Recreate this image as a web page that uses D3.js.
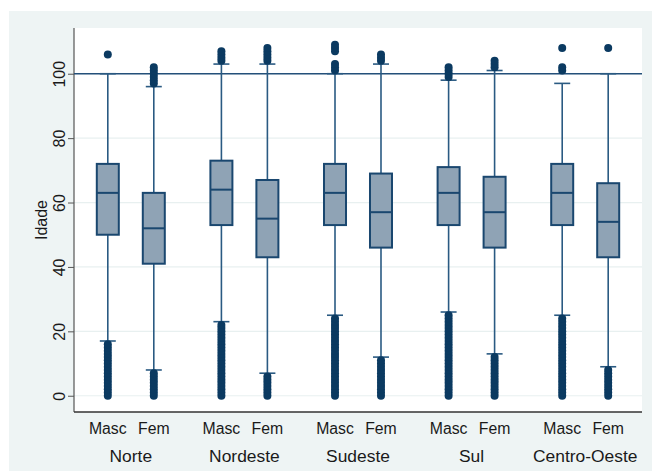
<!DOCTYPE html>
<html>
<head>
<meta charset="utf-8">
<script src="https://cdn.jsdelivr.net/npm/d3@7"></script>
<style>
  html, body { margin: 0; padding: 0; background: #ffffff; }
  svg { display: block; font-family: "Liberation Sans", Arial, sans-serif; }
</style>
</head>
<body>
<svg id="chart" width="652" height="473"></svg>
<script>
// Age distribution (Idade) by region and sex
const regions = ["Norte", "Nordeste", "Sudeste", "Sul", "Centro-Oeste"];
const sexes = ["Masc", "Fem"];

// One entry per region x sex, in order: Norte Masc, Norte Fem, Nordeste Masc, ...
const q1 =        [50, 41, 53, 43, 53, 46, 53, 46, 53, 43];
const medians =   [63, 52, 64, 55, 63, 57, 63, 57, 63, 54];
const q3 =        [72, 63, 73, 67, 72, 69, 71, 68, 72, 66];
const whiskerLo = [17,  8, 23,  7, 25, 12, 26, 13, 25,  9];
const whiskerHi = [100, 96, 103, 103, 100, 103, 98, 101, 97, 100];

const outliersLow = [
  [0,1,2,3,4,5,6,7,8,9,10,11,12,13,14,15,16],
  [0,1,2,3,4,5,6,7],
  [0,1,2,3,4,5,6,7,8,9,10,11,12,13,14,15,16,17,18,19,20,21,22],
  [0,1,2,3,4,5,6],
  [0,1,2,3,4,5,6,7,8,9,10,11,12,13,14,15,16,17,18,19,20,21,22,23,24],
  [0,1,2,3,4,5,6,7,8,9,10,11],
  [0,1,2,3,4,5,6,7,8,9,10,11,12,13,14,15,16,17,18,19,20,21,22,23,24,25],
  [0,1,2,3,4,5,6,7,8,9,10,11,12],
  [0,1,2,3,4,5,6,7,8,9,10,11,12,13,14,15,16,17,18,19,20,21,22,23,24],
  [0,1,2,3,4,5,6,7,8]
];
const outliersHigh = [
  [106],
  [97, 98, 99, 100, 101, 102],
  [104, 105, 106, 107],
  [104, 105, 106, 107, 108],
  [101, 102, 103, 107, 108, 109],
  [104, 105, 106],
  [99, 100, 101, 102],
  [102, 103, 104],
  [101, 102, 108],
  [108]
];

const yTicks = [0, 20, 40, 60, 80, 100];
const refLine = 100;
const yTitle = "Idade";

const series = [];
regions.forEach((r, i) => sexes.forEach((s, j) => {
  const k = i * sexes.length + j;
  series.push({
    region: r, sex: s,
    q1: q1[k], med: medians[k], q3: q3[k],
    lo: whiskerLo[k], hi: whiskerHi[k],
    out: outliersLow[k].concat(outliersHigh[k])
  });
}));

const svg = d3.select("#chart");
const W = 652, H = 473;
const plot = { left: 74, right: 642, top: 28, bottom: 412 };

const navy = "#1a476f";
const dotColor = "#0b3a61";

// Graph region background
svg.append("rect").attr("x", 9).attr("y", 11).attr("width", W - 9).attr("height", 460)
  .attr("fill", "#eef4f4");
// Plot region
svg.append("rect").attr("x", plot.left).attr("y", plot.top)
  .attr("width", plot.right - plot.left).attr("height", plot.bottom - plot.top)
  .attr("fill", "#ffffff");

const y = d3.scaleLinear().domain([-5.05, 114.2]).range([plot.bottom, plot.top]);
const xRegion = d3.scaleBand().domain(regions).range([plot.left, plot.right]).padding(0);
const xSex = d3.scalePoint().domain(sexes).range([0, xRegion.bandwidth()]).padding(0.735);
const cx = d => xRegion(d.region) + xSex(d.sex);

// Gridlines
svg.append("g").selectAll("line").data(yTicks).join("line")
  .attr("x1", plot.left).attr("x2", plot.right)
  .attr("y1", d => y(d)).attr("y2", d => y(d))
  .attr("stroke", "#e8f0f0").attr("stroke-width", 1.2);

// Y axis
const yAxis = d3.axisLeft(y).tickValues(yTicks).tickSize(6).tickPadding(4);
const gy = svg.append("g").attr("transform", `translate(${plot.left},0)`).call(yAxis);
gy.select(".domain").attr("d", `M0,${plot.top}V${plot.bottom}`).attr("stroke", "#555").attr("stroke-width", 1.2);
gy.selectAll(".tick line").attr("stroke", "#555");
gy.selectAll(".tick text")
  .attr("font-size", 16).attr("fill", "#1a1a1a")
  .attr("transform", "rotate(-90)")
  .attr("x", 0).attr("y", -9)
  .attr("dy", 0)
  .attr("text-anchor", "middle");

svg.append("text")
  .attr("transform", `translate(46.5,${(plot.top + plot.bottom) / 2}) rotate(-90)`)
  .attr("text-anchor", "middle").attr("font-size", 16).attr("fill", "#1a1a1a")
  .text(yTitle);

// Reference line
svg.append("line")
  .attr("x1", plot.left).attr("x2", plot.right)
  .attr("y1", y(refLine)).attr("y2", y(refLine))
  .attr("stroke", "#24507a").attr("stroke-width", 1.7);

// Boxes
const capW = 16, boxW = 22;
const g = svg.append("g");
const boxes = g.selectAll("g.box").data(series).join("g").attr("class", "box");

boxes.append("line")
  .attr("x1", cx).attr("x2", cx)
  .attr("y1", d => y(d.q3)).attr("y2", d => y(d.hi))
  .attr("stroke", "#2a5a82").attr("stroke-width", 1.6);
boxes.append("line")
  .attr("x1", cx).attr("x2", cx)
  .attr("y1", d => y(d.q1)).attr("y2", d => y(d.lo))
  .attr("stroke", "#2a5a82").attr("stroke-width", 1.6);
boxes.append("line")
  .attr("x1", d => cx(d) - capW / 2).attr("x2", d => cx(d) + capW / 2)
  .attr("y1", d => y(d.hi)).attr("y2", d => y(d.hi))
  .attr("stroke", "#2a5a82").attr("stroke-width", 1.6);
boxes.append("line")
  .attr("x1", d => cx(d) - capW / 2).attr("x2", d => cx(d) + capW / 2)
  .attr("y1", d => y(d.lo)).attr("y2", d => y(d.lo))
  .attr("stroke", "#2a5a82").attr("stroke-width", 1.6);

boxes.append("rect")
  .attr("x", d => cx(d) - boxW / 2).attr("width", boxW)
  .attr("y", d => y(d.q3)).attr("height", d => y(d.q1) - y(d.q3))
  .attr("fill", "#8fa3b5").attr("stroke", navy).attr("stroke-width", 2);
boxes.append("line")
  .attr("x1", d => cx(d) - boxW / 2).attr("x2", d => cx(d) + boxW / 2)
  .attr("y1", d => y(d.med)).attr("y2", d => y(d.med))
  .attr("stroke", navy).attr("stroke-width", 2);

// Outside values
boxes.selectAll("circle").data(d => d.out.map(v => ({ v, x: cx(d) }))).join("circle")
  .attr("cx", d => d.x).attr("cy", d => y(d.v)).attr("r", 4)
  .attr("fill", dotColor);

// X axis line
svg.append("line")
  .attr("x1", plot.left).attr("x2", plot.right)
  .attr("y1", plot.bottom).attr("y2", plot.bottom)
  .attr("stroke", "#333").attr("stroke-width", 1.4);

// Category labels
svg.append("g").selectAll("text").data(series).join("text")
  .attr("x", cx).attr("y", 434)
  .attr("text-anchor", "middle").attr("font-size", 15.8).attr("fill", "#1a1a1a")
  .text(d => d.sex);
svg.append("g").selectAll("text").data(regions).join("text")
  .attr("x", d => xRegion(d) + xRegion.bandwidth() / 2).attr("y", 461.7)
  .attr("text-anchor", "middle").attr("font-size", 17.4).attr("fill", "#1a1a1a")
  .text(d => d);
</script>
</body>
</html>
